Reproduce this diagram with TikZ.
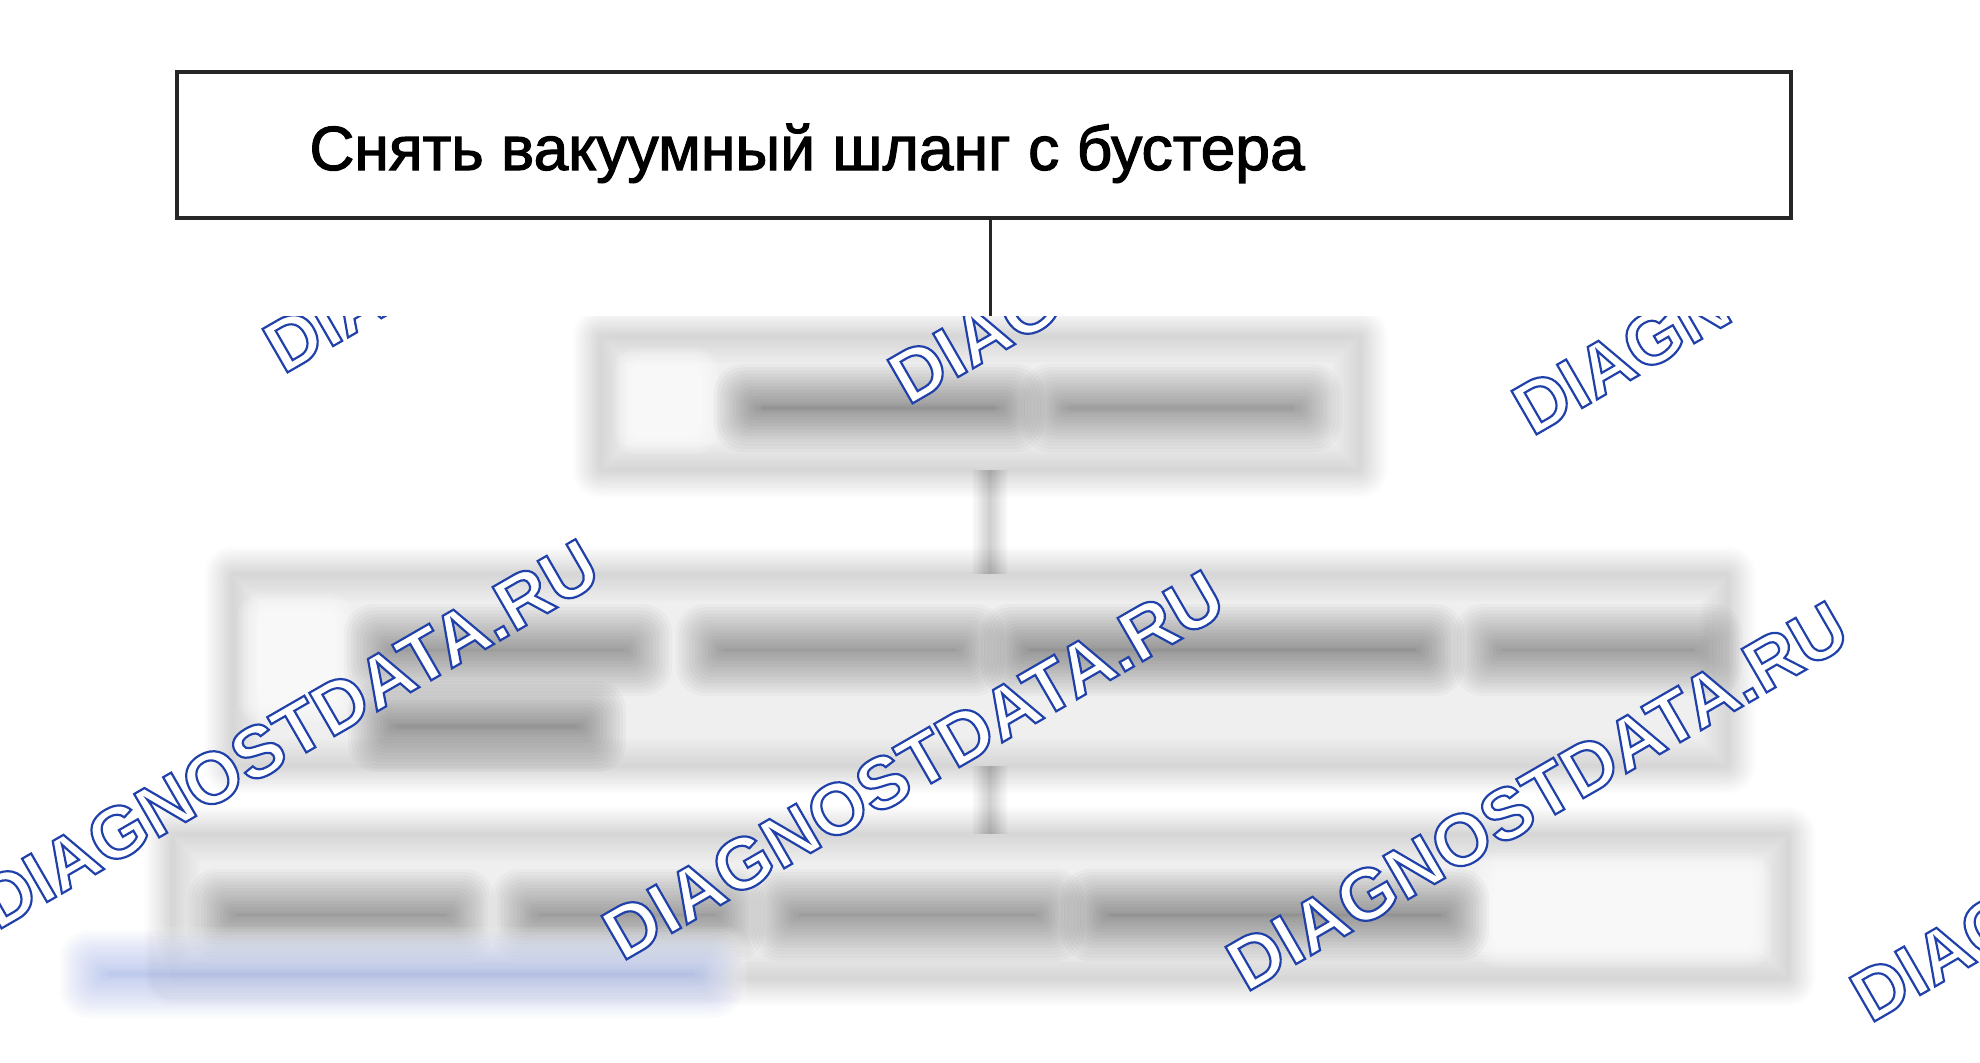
\documentclass[tikz,border=0pt]{standalone}
\usepackage{fontspec}
\setmainfont{Liberation Sans}
\newfontfamily\boxfont[FakeBold=1.8]{Liberation Sans}
\newfontfamily\wmfont[FakeBold=3]{Liberation Sans Bold}
\definecolor{wmblue}{RGB}{32,64,170}
\definecolor{linkblue}{RGB}{40,80,200}

% soft (blurred-looking) filled rectangle: x1 y1 x2 y2 colour opacity radius
\newcommand\blurfill[7]{%
  \foreach \i in {0,...,15}{%
    \pgfmathsetmacro\dd{#7*(1-\i/7.5)}%
    \pgfmathsetmacro\rc{(#7+\dd)*0.3}%
    \pgfmathsetmacro\xa{#1-\dd}\pgfmathsetmacro\ya{#2-\dd}%
    \pgfmathsetmacro\xb{#3+\dd}\pgfmathsetmacro\yb{#4+\dd}%
    \fill[#5, fill opacity=#6, rounded corners=\rc pt] (\xa,\ya) rectangle (\xb,\yb);
  }}
% soft stroke of a path: path colour opacity radius
\newcommand\blurstroke[4]{%
  \foreach \i in {1,...,16}{%
    \pgfmathsetmacro\lw{#4*\i/16}%
    \draw[#2, draw opacity=#3, line width=\lw pt, line join=round] #1;
  }}
% outlined watermark text (white fill, blue stroke)
\tikzset{wmtext/.style={font=\fontsize{36.4}{42}\wmfont, anchor=base west, inner sep=0pt, rotate=30, text=white}}
\newcommand\wmark[3]{%
  \node[wmtext] (#3) at (#1,#2) {\special{pdf:code 0.125 0.251 0.667 RG}DIAGNOSTDATA.RU};}

\begin{document}
\begin{tikzpicture}[x=0.5pt,y=-0.5pt]
\useasboundingbox (0,0) rectangle (1980,1062);
\fill[white] (0,0) rectangle (1980,1062);

% sharp top part
\node[draw=black!85, line width=1.7pt, minimum width=807pt, minimum height=73pt, inner sep=0pt, fill=white] (box1) at (984,145) {};
\node[anchor=base west, inner sep=0pt, font=\fontsize{31.2}{36}\boxfont, text=black] (label1) at (309,170) {Снять вакуумный шланг с бустера};
\coordinate (cut) at (990,316);
\draw[line width=1.5pt, black!85] (cut |- box1.south) -- (cut);

\begin{scope}
\clip (0,316) rectangle (1980,1062);
% ---- box 2
\blurfill{600}{336}{1360}{470}{black}{0.005}{24}
\blurstroke{(600,336) rectangle (1360,470)}{black}{0.006}{28}
\blurfill{632}{366}{700}{436}{white}{0.13}{18}
\blurfill{738}{388}{1020}{428}{black}{0.026}{24}
\blurfill{1045}{388}{1318}{428}{black}{0.024}{24}
% connector 2-3
\blurstroke{(990,470) -- (990,574)}{black}{0.013}{18}
% ---- box 3
\blurfill{232}{574}{1728}{766}{black}{0.0045}{24}
\blurstroke{(232,574) rectangle (1728,766)}{black}{0.006}{28}
\blurfill{256}{612}{334}{704}{white}{0.13}{18}
\blurfill{368}{628}{648}{672}{black}{0.025}{24}
\blurfill{700}{628}{980}{672}{black}{0.025}{24}
\blurfill{1005}{628}{1440}{672}{black}{0.026}{24}
\blurfill{1478}{628}{1718}{672}{black}{0.025}{24}
\blurfill{372}{705}{602}{748}{black}{0.026}{24}
% connector 3-4
\blurstroke{(990,766) -- (990,834)}{black}{0.013}{18}
% ---- box 4
\blurfill{172}{834}{1788}{978}{black}{0.005}{24}
\blurstroke{(172,834) rectangle (1788,978)}{black}{0.006}{28}
\blurfill{1495}{873}{1752}{947}{white}{0.13}{20}
\blurfill{212}{893}{470}{937}{black}{0.025}{24}
\blurfill{515}{893}{740}{937}{black}{0.024}{24}
\blurfill{775}{893}{1060}{937}{black}{0.025}{24}
\blurfill{1085}{893}{1465}{937}{black}{0.026}{24}
% ---- blurred link
\blurfill{70}{945}{730}{1002}{white}{0.09}{18}
\blurfill{84}{954}{718}{994}{linkblue}{0.02}{24}

% ---- watermarks
\wmark{283}{375}{wa}
\wmark{908}{406}{wb}
\wmark{1532}{437}{wc}
\wmark{-3}{931}{wd}
\wmark{622}{962}{we}
\wmark{1246}{993}{wf}
\wmark{1870}{1024}{wg}
\end{scope}
\end{tikzpicture}
\end{document}
